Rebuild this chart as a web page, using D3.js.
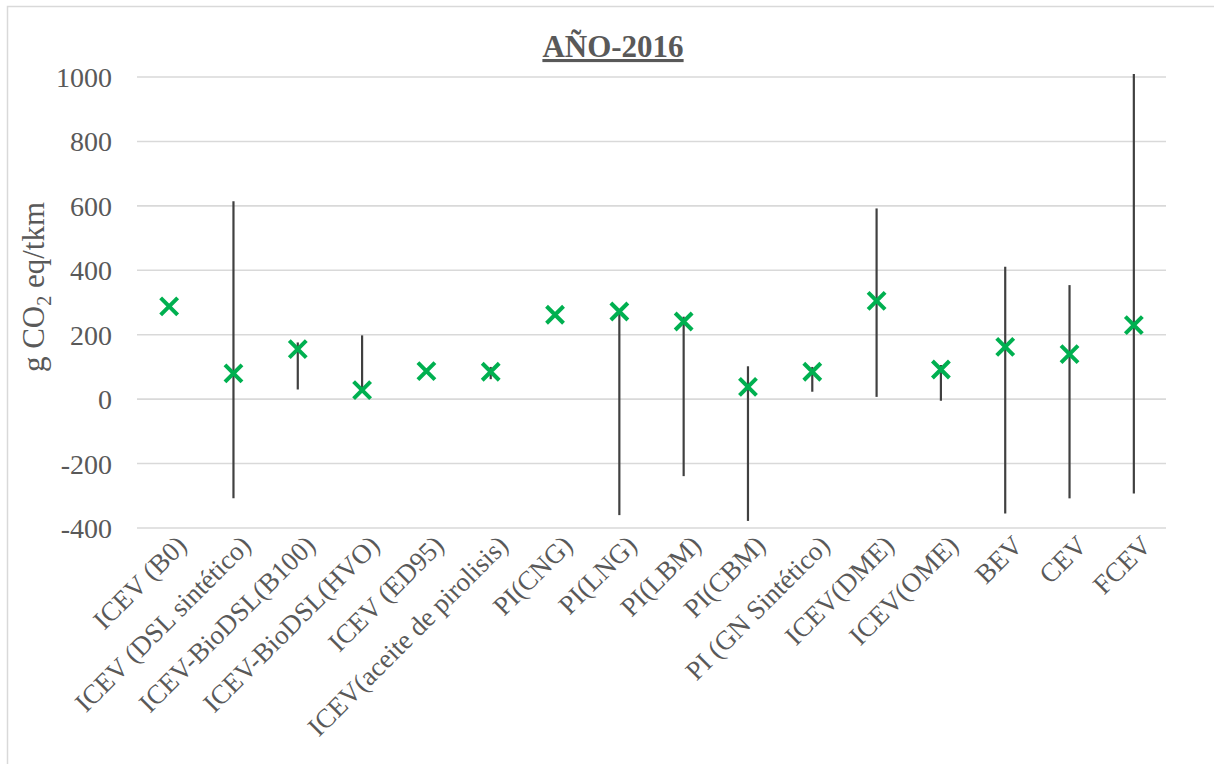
<!DOCTYPE html>
<html>
<head>
<meta charset="utf-8">
<script src="https://cdn.jsdelivr.net/npm/d3@7"></script>
<style>
  html, body { margin: 0; padding: 0; background: #fff; }
  svg { display: block; font-family: "Liberation Serif", "Times New Roman", serif; }
</style>
</head>
<body>
<svg id="chart" width="1214" height="764"></svg>
<script>
// Vehicle / fuel pathways
const categories = [
  "ICEV (B0)", "ICEV (DSL sintético)", "ICEV-BioDSL(B100)", "ICEV-BioDSL(HVO)",
  "ICEV (ED95)", "ICEV(aceite de pirolisis)", "PI(CNG)", "PI(LNG)", "PI(LBM)",
  "PI(CBM)", "PI (GN Sintético)", "ICEV(DME)", "ICEV(OME)", "BEV", "CEV", "FCEV"
];
// Central estimate (g CO2 eq/tkm)
const central = [288, 80, 155, 28, 87, 85, 262, 272, 241, 38, 85, 305, 92, 162, 140, 230];
// Range of results
const lowValues  = [288, -308, 30, 25, 80, 62, 255, -360, -239, -378, 23, 7, -5, -355, -308, -293];
const highValues = [288, 614, 176, 198, 95, 100, 270, 275, 256, 102, 100, 592, 106, 411, 354, 1009];
// Axis ticks
const yTicks = [-400, -200, 0, 200, 400, 600, 800, 1000];

const svg = d3.select("#chart");

// Chart frame
svg.append("rect")
  .attr("x", 7.5).attr("y", 6.5)
  .attr("width", 1240).attr("height", 800)
  .attr("fill", "none").attr("stroke", "#d9d9d9").attr("stroke-width", 1.5);

const plot = { left: 137, right: 1166, top: 77, bottom: 528 };

const x = d3.scaleBand().domain(categories).range([plot.left, plot.right]);
const y = d3.scaleLinear().domain([-400, 1000]).range([plot.bottom, plot.top]);

// Horizontal gridlines
svg.append("g").selectAll("line").data(yTicks).join("line")
  .attr("x1", plot.left).attr("x2", plot.right)
  .attr("y1", d => y(d)).attr("y2", d => y(d))
  .attr("stroke", "#d9d9d9").attr("stroke-width", 1.6);

// Y axis labels
const yAxis = d3.axisLeft(y).tickValues(yTicks).tickSize(0).tickPadding(25)
  .tickFormat(d => String(d));
const gy = svg.append("g").attr("transform", `translate(${plot.left},0)`).call(yAxis);
gy.select(".domain").remove();
gy.selectAll("text")
  .attr("font-family", "Liberation Serif, serif")
  .attr("font-size", 28).attr("fill", "#595959")
  .attr("dy", "0.34em");

// X axis labels, rotated
const xAxis = d3.axisBottom(x).tickSize(0).tickPadding(0);
const gx = svg.append("g").attr("transform", `translate(0,${plot.bottom})`).call(xAxis);
gx.select(".domain").remove();
gx.selectAll("text")
  .attr("font-family", "Liberation Serif, serif")
  .attr("font-size", 27).attr("fill", "#595959")
  .attr("text-anchor", "end")
  .attr("dy", 0)
  .attr("transform", "translate(19,19) rotate(-45)");

// Range lines
svg.append("g").selectAll("line").data(categories).join("line")
  .attr("x1", d => x(d) + x.bandwidth() / 2)
  .attr("x2", d => x(d) + x.bandwidth() / 2)
  .attr("y1", (d, i) => y(lowValues[i]))
  .attr("y2", (d, i) => y(highValues[i]))
  .attr("stroke", "#404040").attr("stroke-width", 2.2);

// Central markers
const s = 8.5;
const marks = svg.append("g").selectAll("g").data(categories).join("g")
  .attr("transform", (d, i) => `translate(${x(d) + x.bandwidth() / 2},${y(central[i])})`);
marks.append("path")
  .attr("d", `M${-s},${-s}L${s},${s}M${-s},${s}L${s},${-s}`)
  .attr("stroke", "#00b050").attr("stroke-width", 4).attr("fill", "none");

// Title
svg.append("text")
  .attr("x", 613).attr("y", 57)
  .attr("text-anchor", "middle")
  .attr("font-family", "Liberation Serif, serif")
  .attr("font-size", 31).attr("font-weight", "bold")
  .attr("fill", "#595959")
  .attr("text-decoration", "underline")
  .text("AÑO-2016");

// Y axis title
const yt = svg.append("text")
  .attr("transform", "translate(44,287) rotate(-90)")
  .attr("text-anchor", "middle")
  .attr("font-family", "Liberation Serif, serif")
  .attr("font-size", 31).attr("fill", "#595959");
yt.append("tspan").text("g CO");
yt.append("tspan").attr("font-size", 20).attr("dy", 7).text("2");
yt.append("tspan").attr("dy", -7).text(" eq/tkm");
</script>
</body>
</html>
